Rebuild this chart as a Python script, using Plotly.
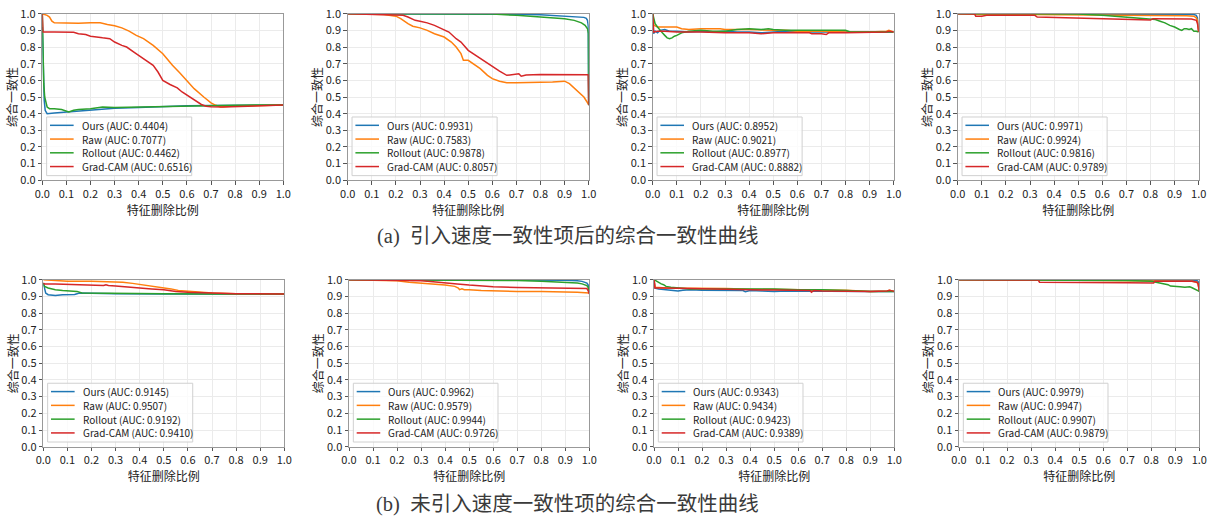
import plotly.graph_objects as go

# ---------------- data ----------------
SERIES = ["Ours", "Raw", "Rollout", "Grad-CAM"]
COLORS = ["#1f77b4", "#ff7f0e", "#2ca02c", "#d62728"]
TICK_VALS = [0.0, 0.1, 0.2, 0.3, 0.4, 0.5, 0.6, 0.7, 0.8, 0.9, 1.0]
TICK_TEXT = ["0.0", "0.1", "0.2", "0.3", "0.4", "0.5", "0.6", "0.7", "0.8", "0.9", "1.0"]
X_TITLE = "特征删除比例"
Y_TITLE = "综合一致性"
CAPTION_A = "(a)\u00a0\u00a0引入速度一致性项后的综合一致性曲线"
CAPTION_B = "(b)\u00a0\u00a0未引入速度一致性项的综合一致性曲线"

# (a) panel 1
A1_OURS_X = [0, 0.004, 0.008, 0.012, 0.016, 0.02, 0.05, 0.1, 0.15, 0.2, 0.25, 0.3, 0.4, 0.5, 0.6, 0.7, 0.8, 0.9, 1.0]
A1_OURS_Y = [0.92, 0.62, 0.48, 0.42, 0.405, 0.40, 0.404, 0.41, 0.415, 0.42, 0.425, 0.432, 0.437, 0.443, 0.447, 0.449, 0.45, 0.452, 0.452]
A1_RAW_X = [0, 0.01, 0.02, 0.03, 0.04, 0.05, 0.1, 0.15, 0.2, 0.24, 0.27, 0.3, 0.33, 0.36, 0.39, 0.42, 0.46, 0.5, 0.52, 0.54, 0.57, 0.6, 0.63, 0.67, 0.7, 0.72, 0.74, 0.78, 0.8, 0.9, 1.0]
A1_RAW_Y = [1.0, 0.995, 0.99, 0.98, 0.955, 0.945, 0.942, 0.943, 0.945, 0.945, 0.935, 0.928, 0.915, 0.895, 0.87, 0.85, 0.81, 0.76, 0.725, 0.69, 0.645, 0.60, 0.55, 0.5, 0.465, 0.45, 0.44, 0.445, 0.446, 0.45, 0.452]
A1_ROLL_X = [0, 0.003, 0.006, 0.01, 0.015, 0.02, 0.03, 0.05, 0.08, 0.1, 0.11, 0.13, 0.15, 0.2, 0.25, 0.3, 0.4, 0.5, 0.6, 0.7, 0.8, 0.9, 1.0]
A1_ROLL_Y = [1.0, 0.75, 0.58, 0.5, 0.46, 0.44, 0.43, 0.43, 0.425, 0.412, 0.41, 0.42, 0.425, 0.43, 0.44, 0.437, 0.44, 0.444, 0.448, 0.45, 0.451, 0.452, 0.452]
A1_GRAD_X = [0, 0.003, 0.05, 0.1, 0.13, 0.15, 0.18, 0.2, 0.22, 0.25, 0.28, 0.3, 0.33, 0.35, 0.38, 0.4, 0.43, 0.46, 0.48, 0.5, 0.53, 0.56, 0.58, 0.6, 0.63, 0.66, 0.68, 0.7, 0.75, 0.8, 0.85, 0.9, 1.0]
A1_GRAD_Y = [1.0, 0.89, 0.89, 0.888, 0.888, 0.88, 0.875, 0.865, 0.86, 0.855, 0.85, 0.83, 0.81, 0.80, 0.77, 0.75, 0.72, 0.69, 0.65, 0.60, 0.575, 0.555, 0.53, 0.51, 0.48, 0.455, 0.445, 0.442, 0.44, 0.443, 0.446, 0.45, 0.452]
A1_AUC = [0.4404, 0.7077, 0.4462, 0.6516]

# (a) panel 2
A2_OURS_X = [0, 0.5, 0.6, 0.7, 0.8, 0.85, 0.9, 0.95, 0.98, 0.99, 0.995, 0.998, 1.0]
A2_OURS_Y = [1.0, 1.0, 0.999, 0.997, 0.993, 0.99, 0.987, 0.983, 0.978, 0.972, 0.96, 0.93, 0.45]
A2_RAW_X = [0, 0.15, 0.2, 0.22, 0.25, 0.27, 0.3, 0.33, 0.36, 0.4, 0.43, 0.45, 0.47, 0.48, 0.5, 0.52, 0.55, 0.58, 0.6, 0.63, 0.66, 0.7, 0.75, 0.8, 0.85, 0.9, 0.92, 0.94, 0.96, 0.98, 1.0]
A2_RAW_Y = [1.0, 0.995, 0.985, 0.97, 0.94, 0.925, 0.915, 0.9, 0.88, 0.86, 0.83, 0.80, 0.76, 0.72, 0.72, 0.70, 0.67, 0.63, 0.61, 0.595, 0.585, 0.585, 0.585, 0.588, 0.59, 0.595, 0.58, 0.555, 0.53, 0.5, 0.455]
A2_ROLL_X = [0, 0.6, 0.7, 0.75, 0.8, 0.85, 0.9, 0.94, 0.97, 0.985, 0.995, 0.999, 1.0]
A2_ROLL_Y = [1.0, 0.998, 0.99, 0.985, 0.978, 0.975, 0.97, 0.96, 0.945, 0.93, 0.91, 0.88, 0.45]
A2_GRAD_X = [0, 0.2, 0.23, 0.25, 0.28, 0.3, 0.33, 0.36, 0.39, 0.42, 0.45, 0.47, 0.5, 0.52, 0.55, 0.58, 0.6, 0.63, 0.66, 0.7, 0.71, 0.72, 0.74, 0.8, 0.9, 0.998, 1.0]
A2_GRAD_Y = [1.0, 0.995, 0.99, 0.98, 0.96, 0.955, 0.945, 0.93, 0.91, 0.89, 0.85, 0.83, 0.78, 0.76, 0.73, 0.70, 0.68, 0.655, 0.63, 0.635, 0.64, 0.625, 0.632, 0.635, 0.635, 0.633, 0.45]
A2_AUC = [0.9931, 0.7583, 0.9878, 0.8057]

# (a) panel 3
A3_OURS_X = [0, 0.004, 0.01, 0.02, 0.03, 0.05, 0.07, 0.1, 0.15, 0.2, 0.25, 0.3, 0.35, 0.4, 0.45, 0.5, 0.55, 0.6, 0.7, 0.8, 0.9, 1.0]
A3_OURS_Y = [1.0, 0.88, 0.895, 0.885, 0.90, 0.905, 0.895, 0.895, 0.89, 0.895, 0.89, 0.895, 0.89, 0.89, 0.885, 0.89, 0.895, 0.89, 0.89, 0.89, 0.89, 0.89]
A3_RAW_X = [0, 0.005, 0.02, 0.05, 0.1, 0.12, 0.15, 0.2, 0.25, 0.28, 0.3, 0.4, 0.5, 0.55, 0.6, 0.7, 0.8, 0.9, 0.97, 0.98, 1.0]
A3_RAW_Y = [1.0, 0.93, 0.92, 0.92, 0.92, 0.91, 0.905, 0.91, 0.91, 0.91, 0.905, 0.905, 0.90, 0.90, 0.895, 0.895, 0.89, 0.89, 0.895, 0.90, 0.89]
A3_ROLL_X = [0, 0.005, 0.01, 0.02, 0.03, 0.04, 0.05, 0.06, 0.07, 0.08, 0.09, 0.1, 0.12, 0.15, 0.2, 0.25, 0.3, 0.35, 0.4, 0.45, 0.48, 0.5, 0.55, 0.6, 0.7, 0.8, 0.82, 0.9, 1.0]
A3_ROLL_Y = [1.0, 0.96, 0.94, 0.92, 0.90, 0.885, 0.87, 0.855, 0.85, 0.855, 0.865, 0.87, 0.885, 0.895, 0.90, 0.895, 0.895, 0.905, 0.91, 0.905, 0.91, 0.905, 0.9, 0.90, 0.90, 0.90, 0.89, 0.89, 0.89]
A3_GRAD_X = [0, 0.004, 0.02, 0.05, 0.1, 0.15, 0.2, 0.3, 0.4, 0.45, 0.5, 0.6, 0.65, 0.66, 0.7, 0.72, 0.73, 0.8, 0.9, 0.97, 0.98, 1.0]
A3_GRAD_Y = [1.0, 0.89, 0.895, 0.895, 0.89, 0.89, 0.89, 0.885, 0.885, 0.88, 0.885, 0.885, 0.885, 0.88, 0.88, 0.875, 0.885, 0.885, 0.89, 0.89, 0.895, 0.89]
A3_AUC = [0.8952, 0.9021, 0.8977, 0.8882]

# (a) panel 4
A4_OURS_X = [0, 0.9, 0.95, 0.98, 0.99, 0.995, 1.0]
A4_OURS_Y = [1.0, 0.999, 0.998, 0.995, 0.99, 0.975, 0.89]
A4_RAW_X = [0, 0.08, 0.1, 0.3, 0.6, 0.7, 0.8, 0.9, 0.95, 0.98, 0.99, 0.995, 1.0]
A4_RAW_Y = [1.0, 0.998, 0.995, 0.995, 0.993, 0.99, 0.99, 0.99, 0.988, 0.985, 0.975, 0.96, 0.89]
A4_ROLL_X = [0, 0.5, 0.6, 0.7, 0.75, 0.8, 0.82, 0.84, 0.86, 0.88, 0.9, 0.92, 0.93, 0.94, 0.95, 0.96, 0.97, 0.98, 0.99, 1.0]
A4_ROLL_Y = [1.0, 0.998, 0.99, 0.98, 0.975, 0.97, 0.965, 0.955, 0.945, 0.93, 0.92, 0.905, 0.90, 0.91, 0.91, 0.905, 0.91, 0.895, 0.895, 0.89]
A4_GRAD_X = [0, 0.07, 0.075, 0.1, 0.12, 0.32, 0.33, 0.4, 0.5, 0.6, 0.7, 0.8, 0.81, 0.9, 0.97, 0.99, 0.995, 1.0]
A4_GRAD_Y = [1.0, 0.998, 0.985, 0.985, 0.99, 0.99, 0.98, 0.978, 0.975, 0.97, 0.965, 0.962, 0.97, 0.97, 0.968, 0.96, 0.94, 0.89]
A4_AUC = [0.9971, 0.9924, 0.9816, 0.9789]

# (b) panel 1
B1_OURS_X = [0, 0.005, 0.01, 0.02, 0.05, 0.08, 0.1, 0.12, 0.13, 0.15, 0.2, 0.3, 0.5, 0.7, 1.0]
B1_OURS_Y = [0.98, 0.94, 0.92, 0.91, 0.905, 0.91, 0.912, 0.915, 0.912, 0.92, 0.918, 0.916, 0.915, 0.915, 0.915]
B1_RAW_X = [0, 0.05, 0.1, 0.2, 0.3, 0.33, 0.37, 0.4, 0.45, 0.5, 0.53, 0.56, 0.6, 0.65, 0.7, 0.8, 1.0]
B1_RAW_Y = [1.0, 0.995, 0.99, 0.99, 0.988, 0.985, 0.978, 0.972, 0.962, 0.955, 0.945, 0.935, 0.93, 0.925, 0.92, 0.916, 0.915]
B1_ROLL_X = [0, 0.005, 0.02, 0.05, 0.08, 0.1, 0.12, 0.14, 0.16, 0.2, 0.3, 0.5, 0.7, 1.0]
B1_ROLL_Y = [0.98, 0.96, 0.95, 0.94, 0.935, 0.932, 0.93, 0.93, 0.92, 0.92, 0.918, 0.916, 0.915, 0.915]
B1_GRAD_X = [0, 0.005, 0.05, 0.1, 0.2, 0.25, 0.26, 0.27, 0.3, 0.35, 0.4, 0.45, 0.5, 0.55, 0.6, 0.7, 0.8, 1.0]
B1_GRAD_Y = [0.98, 0.975, 0.975, 0.972, 0.97, 0.965, 0.97, 0.965, 0.962, 0.958, 0.95, 0.945, 0.94, 0.93, 0.925, 0.92, 0.916, 0.915]
B1_AUC = [0.9145, 0.9507, 0.9192, 0.9410]

# (b) panel 2
B2_OURS_X = [0, 0.8, 0.9, 0.95, 0.97, 0.99, 0.995, 1.0]
B2_OURS_Y = [1.0, 0.999, 0.997, 0.993, 0.99, 0.98, 0.97, 0.93]
B2_RAW_X = [0, 0.15, 0.2, 0.25, 0.3, 0.35, 0.4, 0.44, 0.455, 0.46, 0.47, 0.48, 0.5, 0.55, 0.6, 0.7, 0.8, 0.9, 0.95, 1.0]
B2_RAW_Y = [1.0, 0.998, 0.993, 0.985, 0.98, 0.975, 0.968, 0.96, 0.95, 0.94, 0.945, 0.94, 0.94, 0.935, 0.932, 0.93, 0.93, 0.928, 0.925, 0.92]
B2_ROLL_X = [0, 0.5, 0.6, 0.7, 0.8, 0.85, 0.9, 0.95, 0.97, 0.99, 0.995, 1.0]
B2_ROLL_Y = [1.0, 0.999, 0.997, 0.995, 0.99, 0.988, 0.985, 0.98, 0.975, 0.965, 0.955, 0.93]
B2_GRAD_X = [0, 0.2, 0.3, 0.35, 0.4, 0.45, 0.5, 0.55, 0.6, 0.7, 0.8, 0.9, 0.99, 0.995, 1.0]
B2_GRAD_Y = [1.0, 0.998, 0.993, 0.988, 0.983, 0.975, 0.968, 0.963, 0.958, 0.953, 0.95, 0.948, 0.947, 0.935, 0.915]
B2_AUC = [0.9962, 0.9579, 0.9944, 0.9726]

# (b) panel 3
B3_OURS_X = [0, 0.004, 0.02, 0.05, 0.08, 0.1, 0.12, 0.15, 0.2, 0.3, 0.37, 0.38, 0.4, 0.45, 0.5, 0.55, 0.6, 0.7, 0.8, 0.9, 1.0]
B3_OURS_Y = [1.0, 0.95, 0.945, 0.94, 0.937, 0.932, 0.937, 0.94, 0.937, 0.937, 0.935, 0.928, 0.935, 0.933, 0.93, 0.933, 0.932, 0.93, 0.93, 0.93, 0.93]
B3_RAW_X = [0, 0.005, 0.05, 0.1, 0.2, 0.3, 0.4, 0.5, 0.6, 0.7, 0.8, 0.85, 0.9, 0.97, 0.98, 1.0]
B3_RAW_Y = [1.0, 0.955, 0.95, 0.95, 0.95, 0.947, 0.943, 0.94, 0.94, 0.938, 0.937, 0.935, 0.93, 0.932, 0.937, 0.93]
B3_ROLL_X = [0, 0.01, 0.02, 0.03, 0.04, 0.05, 0.07, 0.1, 0.15, 0.2, 0.3, 0.5, 0.6, 0.7, 0.8, 0.9, 1.0]
B3_ROLL_Y = [1.0, 0.99, 0.985, 0.975, 0.97, 0.96, 0.955, 0.95, 0.945, 0.945, 0.945, 0.945, 0.94, 0.94, 0.935, 0.93, 0.93]
B3_GRAD_X = [0, 0.004, 0.05, 0.1, 0.2, 0.3, 0.4, 0.5, 0.6, 0.65, 0.655, 0.665, 0.7, 0.8, 0.9, 0.97, 0.98, 1.0]
B3_GRAD_Y = [1.0, 0.95, 0.95, 0.948, 0.945, 0.94, 0.94, 0.938, 0.936, 0.935, 0.925, 0.935, 0.933, 0.93, 0.93, 0.932, 0.936, 0.93]
B3_AUC = [0.9343, 0.9434, 0.9423, 0.9389]

# (b) panel 4
B4_OURS_X = [0, 0.95, 0.98, 0.99, 0.995, 1.0]
B4_OURS_Y = [1.0, 0.999, 0.997, 0.995, 0.99, 0.93]
B4_RAW_X = [0, 0.3, 0.5, 0.7, 0.8, 0.9, 0.97, 0.99, 0.995, 1.0]
B4_RAW_Y = [1.0, 0.999, 0.996, 0.993, 0.99, 0.99, 0.99, 0.985, 0.975, 0.93]
B4_ROLL_X = [0, 0.5, 0.7, 0.8, 0.82, 0.84, 0.86, 0.87, 0.88, 0.9, 0.92, 0.94, 0.95, 0.96, 0.97, 0.98, 0.99, 1.0]
B4_ROLL_Y = [1.0, 0.999, 0.995, 0.99, 0.985, 0.98, 0.975, 0.97, 0.962, 0.962, 0.958, 0.955, 0.955, 0.958, 0.952, 0.945, 0.94, 0.93]
B4_GRAD_X = [0, 0.33, 0.335, 0.5, 0.6, 0.7, 0.81, 0.815, 0.9, 0.97, 0.99, 0.995, 1.0]
B4_GRAD_Y = [1.0, 0.998, 0.985, 0.985, 0.983, 0.982, 0.98, 0.99, 0.99, 0.99, 0.985, 0.975, 0.935]
B4_AUC = [0.9979, 0.9947, 0.9907, 0.9879]

# ---------------- layout helpers ----------------
W, H = 1217, 520
FONT = "Noto Sans CJK SC, DejaVu Sans, sans-serif"

# pixel boxes of the 8 plot areas: (left, right, top, bottom)
BOXES = [
    (42.3, 283.3, 13.7, 180.3), (347.7, 588.7, 13.7, 180.3),
    (652.7, 893.7, 13.7, 180.3), (957.7, 1198.7, 13.7, 180.3),
    (43.3, 284.3, 279.7, 446.7), (349.0, 589.3, 279.7, 446.7),
    (654.0, 894.3, 279.7, 446.7), (959.0, 1199.3, 279.7, 446.7),
]

PANELS = [
    ([(A1_OURS_X, A1_OURS_Y), (A1_RAW_X, A1_RAW_Y), (A1_ROLL_X, A1_ROLL_Y), (A1_GRAD_X, A1_GRAD_Y)], A1_AUC),
    ([(A2_OURS_X, A2_OURS_Y), (A2_RAW_X, A2_RAW_Y), (A2_ROLL_X, A2_ROLL_Y), (A2_GRAD_X, A2_GRAD_Y)], A2_AUC),
    ([(A3_OURS_X, A3_OURS_Y), (A3_RAW_X, A3_RAW_Y), (A3_ROLL_X, A3_ROLL_Y), (A3_GRAD_X, A3_GRAD_Y)], A3_AUC),
    ([(A4_OURS_X, A4_OURS_Y), (A4_RAW_X, A4_RAW_Y), (A4_ROLL_X, A4_ROLL_Y), (A4_GRAD_X, A4_GRAD_Y)], A4_AUC),
    ([(B1_OURS_X, B1_OURS_Y), (B1_RAW_X, B1_RAW_Y), (B1_ROLL_X, B1_ROLL_Y), (B1_GRAD_X, B1_GRAD_Y)], B1_AUC),
    ([(B2_OURS_X, B2_OURS_Y), (B2_RAW_X, B2_RAW_Y), (B2_ROLL_X, B2_ROLL_Y), (B2_GRAD_X, B2_GRAD_Y)], B2_AUC),
    ([(B3_OURS_X, B3_OURS_Y), (B3_RAW_X, B3_RAW_Y), (B3_ROLL_X, B3_ROLL_Y), (B3_GRAD_X, B3_GRAD_Y)], B3_AUC),
    ([(B4_OURS_X, B4_OURS_Y), (B4_RAW_X, B4_RAW_Y), (B4_ROLL_X, B4_ROLL_Y), (B4_GRAD_X, B4_GRAD_Y)], B4_AUC),
]

fig = go.Figure()
shapes = []
annotations = []

axis_common = dict(
    range=[0, 1], tickmode="array", tickvals=TICK_VALS, ticktext=TICK_TEXT,
    showgrid=True, gridcolor="#ebebeb", gridwidth=1,
    showline=True, mirror=True, linecolor="#999999", linewidth=1,
    ticks="outside", ticklen=3.5, tickcolor="#555", tickwidth=1,
    tickfont=dict(family=FONT, size=11, color="#222"),
    zeroline=False, fixedrange=True, automargin=False,
)

for i, ((l, r, t, b), (series, aucs)) in enumerate(zip(BOXES, PANELS), start=1):
    sfx = "" if i == 1 else str(i)
    xname, yname = "x" + sfx, "y" + sfx
    for (xs, ys), name, color in zip(series, SERIES, COLORS):
        fig.add_trace(go.Scatter(x=xs, y=ys, mode="lines", name=name,
                                 line=dict(color=color, width=1.5),
                                 xaxis=xname, yaxis=yname, showlegend=False,
                                 hoverinfo="skip"))
    fig.layout["xaxis" + sfx] = dict(
        axis_common, domain=[l / W, r / W], anchor=yname,
        title=dict(text=X_TITLE, font=dict(family=FONT, size=12, color="#222"), standoff=0),
    )
    fig.layout["yaxis" + sfx] = dict(
        axis_common, domain=[1 - b / H, 1 - t / H], anchor=xname,
        title=dict(text=Y_TITLE, font=dict(family=FONT, size=12, color="#222"), standoff=0),
    )
    # legend (lower-left, matplotlib style)
    xref, yref = xname + " domain", yname + " domain"
    shapes.append(dict(type="rect", xref=xref, yref=yref, x0=0.018, x1=0.62, y0=0.028, y1=0.38,
                       line=dict(color="#d0d0d0", width=1), fillcolor="rgba(255,255,255,0.8)", layer="above"))
    for k, (name, color, auc) in enumerate(zip(SERIES, COLORS, aucs)):
        yy = 0.33 - k * 0.0825
        shapes.append(dict(type="line", xref=xref, yref=yref, x0=0.032, x1=0.13, y0=yy, y1=yy,
                           line=dict(color=color, width=1.5), layer="above"))
        annotations.append(dict(xref=xref, yref=yref, x=0.155, y=yy, xanchor="left", yanchor="middle",
                                text=f"{name} (AUC: {auc:.4f})", showarrow=False,
                                font=dict(family=FONT, size=10, color="#222")))

CAP_FONT = dict(family="Liberation Serif, Noto Sans CJK SC, serif", size=20.5, color="#3a3a3a")
annotations.append(dict(xref="paper", yref="paper", x=567.5 / W, y=1 - 237 / H, xanchor="center", yanchor="middle",
                        text=CAPTION_A, showarrow=False, font=CAP_FONT))
annotations.append(dict(xref="paper", yref="paper", x=567.5 / W, y=1 - 504 / H, xanchor="center", yanchor="middle",
                        text=CAPTION_B, showarrow=False, font=CAP_FONT))

fig.update_layout(
    width=W, height=H, margin=dict(l=0, r=0, t=0, b=0),
    paper_bgcolor="white", plot_bgcolor="white",
    shapes=shapes, annotations=annotations, showlegend=False,
)

fig.write_html("out.html", config={"displayModeBar": False},
               post_script="document.body.style.margin='0';document.body.style.overflow='hidden';")
